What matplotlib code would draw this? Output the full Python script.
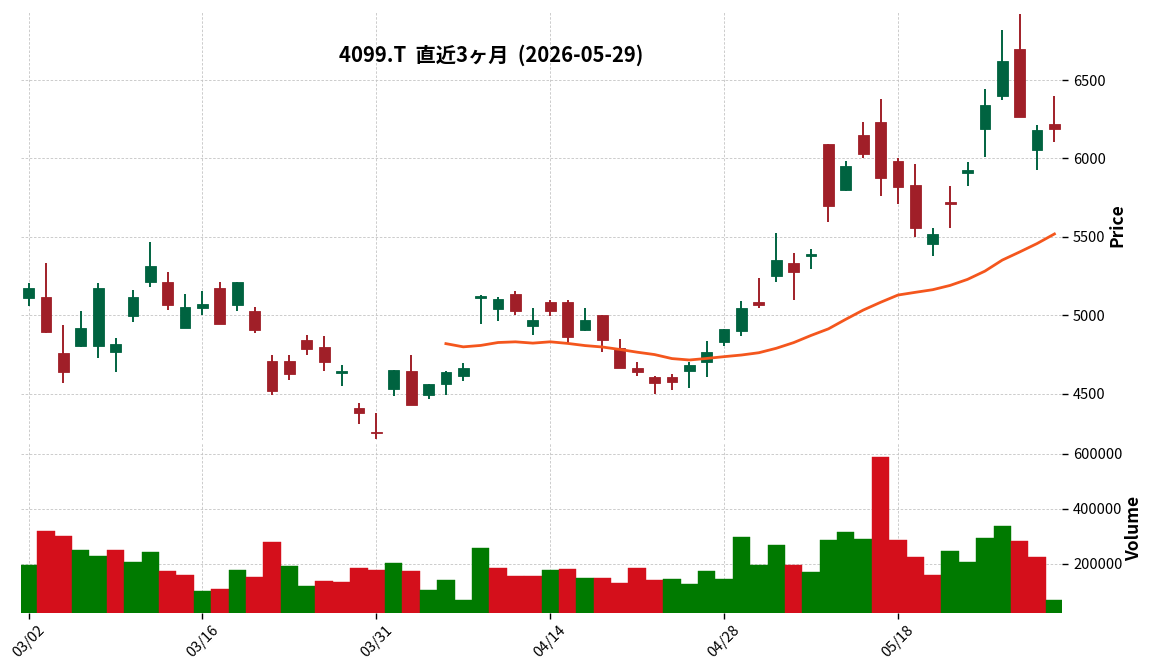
import numpy as np
import pandas as pd
import matplotlib
matplotlib.use("Agg")
import matplotlib.pyplot as plt

plt.rcParams['font.family'] = ['Noto Sans CJK JP', 'DejaVu Sans']

# ---- data ----
tick_labels = ["03/02", "03/16", "03/31", "04/14", "04/28", "05/18"]
tick_index = [0, 10, 20, 30, 40, 50]

opens = [5112, 5117, 4761, 4807, 4807, 4763, 4998, 5210, 5212, 4922,
         5049, 5175, 5068, 5028, 4707, 4707, 4842, 4797, 4630, 4406,
         4259, 4530, 4642, 4491, 4562, 4613, 5113, 5040, 5134, 4934,
         5083, 5083, 4904, 5002, 4794, 4662, 4604, 4604, 4645, 4702,
         4830, 4902, 5085, 5253, 5333, 5380, 6091, 5800, 6149, 6231,
         5983, 5829, 5453, 5720, 5908, 6190, 6395, 6695, 6053, 6220]
highs = [5203, 5331, 4941, 5025, 5203, 4854, 5159, 5468, 5273, 5133,
         5158, 5212, 5214, 5051, 4748, 4748, 4872, 4865, 4686, 4440,
         4379, 4649, 4747, 4564, 4647, 4698, 5132, 5119, 5155, 5049,
         5100, 5100, 5049, 5002, 4851, 4704, 4613, 4625, 4702, 4838,
         4915, 5093, 5240, 5522, 5399, 5420, 6091, 5981, 6234, 6376,
         6000, 5962, 5556, 5827, 5979, 6442, 6821, 6923, 6216, 6395]
lows = [5059, 4886, 4568, 4801, 4729, 4638, 4955, 5182, 5032, 4918,
        5000, 4947, 5030, 4885, 4494, 4590, 4750, 4647, 4551, 4308,
        4213, 4483, 4425, 4468, 4494, 4579, 4947, 4966, 5000, 4877,
        4994, 4815, 4900, 4768, 4662, 4613, 4500, 4521, 4538, 4608,
        4802, 4868, 5045, 5210, 5098, 5293, 5592, 5790, 6000, 5760,
        5712, 5502, 5378, 5556, 5823, 6009, 6374, 6261, 5929, 6103]
closes = [5174, 4896, 4636, 4919, 5174, 4818, 5117, 5314, 5068, 5053,
          5073, 4947, 5214, 4906, 4517, 4626, 4786, 4703, 4643, 4376,
          4248, 4649, 4425, 4564, 4636, 4662, 5121, 5102, 5028, 4968,
          5028, 4862, 4968, 4840, 4662, 4638, 4568, 4574, 4681, 4764,
          4911, 5047, 5068, 5352, 5278, 5391, 5699, 5951, 6030, 5877,
          5818, 5556, 5519, 5712, 5929, 6342, 6624, 6261, 6182, 6190]
volumes = [194000, 320800, 299000, 248300, 226600, 248300, 204800, 241000, 172200, 157700,
           99700, 106900, 175800, 150500, 277300, 190300, 117800, 136000, 132300, 183100,
           175800, 201200, 172200, 103300, 139600, 67100, 255600, 183100, 154100, 154100,
           175800, 179500, 146800, 146800, 128700, 183100, 139600, 143200, 125100, 172200,
           143200, 295500, 194000, 266500, 194000, 168600, 284600, 313600, 288200, 587000,
           284600, 223000, 157700, 244700, 204800, 291800, 339000, 281000, 223000, 67100]
mav_period = 25

# ---- style ----
c_up = "#006340"
c_dn = "#a01f28"
v_up = "#007a00"
v_dn = "#d40f1b"
ma_color = "#f4561d"
grid_kw = dict(color="#c4c4c4", linestyle=(0, (3, 2)), linewidth=0.6)

o = np.array(opens, float)
h = np.array(highs, float)
l = np.array(lows, float)
c = np.array(closes, float)
v = np.array(volumes, float)
x = np.arange(len(c))

fig = plt.figure(figsize=(11.52, 6.70), dpi=100)
ax = fig.add_axes([0.0182, 0.3433, 0.9036, 0.6403])
axv = fig.add_axes([0.0182, 0.0851, 0.9036, 0.2537], sharex=ax)

# candles
up = c >= o
ccol = np.where(up, c_up, c_dn)
ax.vlines(x, l, h, colors=ccol, linewidth=1.4, zorder=2)
ax.bar(x, np.maximum(np.abs(c - o), 6), bottom=np.minimum(o, c), width=0.62,
       color=ccol, edgecolor=ccol, linewidth=0.6, zorder=3)

# moving average
ma = pd.Series(c).rolling(mav_period).mean()
ax.plot(x, ma, color=ma_color, linewidth=2.0, zorder=4)

# volume colored vs previous close
vup = np.concatenate([[True], c[1:] >= c[:-1]])
vcol = np.where(vup, v_up, v_dn)
axv.bar(x, v, width=1.0, color=vcol, edgecolor=vcol, linewidth=0.3, zorder=2)

for a in (ax, axv):
    for s in a.spines.values():
        s.set_visible(False)
    a.grid(True, **grid_kw)
    a.set_axisbelow(True)
    a.yaxis.tick_right()
    a.yaxis.set_label_position("right")
    a.tick_params(axis="y", labelsize=10.5, length=4, width=1, pad=4)

ax.set_xlim(-0.44, 59.43)
ax.set_ylim(4205, 6940)
ax.set_yticks([4500, 5000, 5500, 6000, 6500])
ax.set_ylabel("Price", fontsize=12.5, fontweight="bold", labelpad=2)
ax.tick_params(axis="x", labelbottom=False, length=0)

axv.set_ylim(0.3 * v.min(), 1.09 * v.max())
axv.set_yticks([200000, 400000, 600000])
axv.set_yticklabels(["200000", "400000", "600000"])
axv.set_ylabel("Volume", fontsize=12.5, fontweight="bold", labelpad=2)
axv.set_xticks(tick_index)
axv.set_xticklabels(tick_labels, rotation=45, fontsize=10.5)
axv.tick_params(axis="x", length=4, width=1)

fig.text(0.426, 0.918, "4099.T  直近3ヶ月  (2026-05-29)", ha="center", va="center",
         fontsize=14.6, fontweight="bold")

fig.savefig("out.png", dpi=100)
